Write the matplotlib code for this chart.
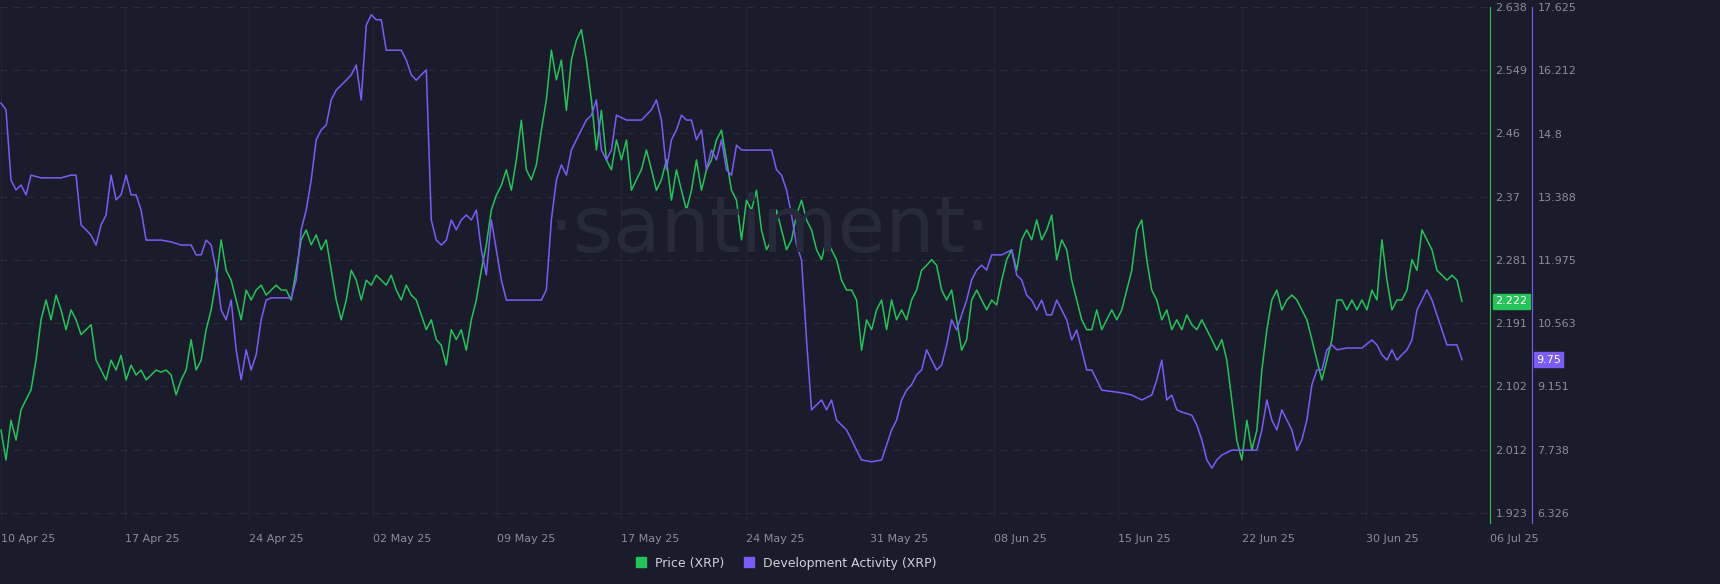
import numpy as np
import matplotlib
matplotlib.use("Agg")
import matplotlib.pyplot as plt
from matplotlib.lines import Line2D

date_labels = ["10 Apr 25", "17 Apr 25", "24 Apr 25", "02 May 25", "09 May 25", "17 May 25",
               "24 May 25", "31 May 25", "08 Jun 25", "15 Jun 25", "22 Jun 25", "30 Jun 25", "06 Jul 25"]
price_ticks = [1.923, 2.012, 2.102, 2.191, 2.281, 2.37, 2.46, 2.549, 2.638]
dev_ticks = [6.326, 7.738, 9.151, 10.563, 11.975, 13.388, 14.8, 16.212, 17.625]

price = [2.040, 1.998, 2.054, 2.026, 2.069, 2.083, 2.097, 2.139, 2.196, 2.224, 2.196, 2.231, 2.210, 2.182, 2.210,
         2.196, 2.175, 2.182, 2.189, 2.139, 2.125, 2.111, 2.139, 2.125, 2.146, 2.111, 2.132, 2.118, 2.125, 2.111,
         2.118, 2.125, 2.122, 2.125, 2.118, 2.090, 2.111, 2.125, 2.168, 2.125, 2.139, 2.182, 2.210, 2.252, 2.309,
         2.266, 2.252, 2.224, 2.196, 2.238, 2.224, 2.238, 2.245, 2.231, 2.238, 2.245, 2.238, 2.238, 2.224, 2.266,
         2.309, 2.323, 2.302, 2.316, 2.295, 2.309, 2.266, 2.224, 2.196, 2.224, 2.266, 2.252, 2.224, 2.252, 2.245,
         2.259, 2.252, 2.245, 2.259, 2.238, 2.224, 2.245, 2.231, 2.224, 2.203, 2.182, 2.196, 2.168, 2.160, 2.132,
         2.182, 2.168, 2.182, 2.153, 2.196, 2.224, 2.266, 2.302, 2.351, 2.372, 2.386, 2.408, 2.379, 2.422, 2.478,
         2.408, 2.394, 2.415, 2.464, 2.507, 2.577, 2.535, 2.563, 2.492, 2.563, 2.591, 2.606, 2.563, 2.507, 2.436,
         2.492, 2.422, 2.408, 2.450, 2.422, 2.450, 2.379, 2.394, 2.408, 2.436, 2.408, 2.379, 2.394, 2.422, 2.365,
         2.408, 2.379, 2.351, 2.379, 2.422, 2.379, 2.408, 2.422, 2.450, 2.464, 2.422, 2.379, 2.365, 2.309, 2.365,
         2.351, 2.379, 2.323, 2.295, 2.309, 2.351, 2.323, 2.295, 2.309, 2.344, 2.365, 2.337, 2.323, 2.295, 2.281,
         2.309, 2.295, 2.281, 2.252, 2.238, 2.238, 2.224, 2.153, 2.196, 2.182, 2.210, 2.224, 2.182, 2.224, 2.196,
         2.210, 2.196, 2.224, 2.238, 2.266, 2.273, 2.281, 2.273, 2.238, 2.224, 2.238, 2.196, 2.153, 2.168, 2.224,
         2.238, 2.224, 2.210, 2.224, 2.217, 2.252, 2.281, 2.295, 2.266, 2.309, 2.323, 2.309, 2.337, 2.309, 2.323,
         2.344, 2.281, 2.309, 2.295, 2.252, 2.224, 2.196, 2.182, 2.182, 2.210, 2.182, 2.196, 2.210, 2.196, 2.210,
         2.238, 2.266, 2.323, 2.337, 2.281, 2.238, 2.224, 2.196, 2.210, 2.182, 2.196, 2.182, 2.203, 2.189, 2.182,
         2.196, 2.182, 2.168, 2.153, 2.168, 2.139, 2.083, 2.026, 1.998, 2.054, 2.012, 2.040, 2.125, 2.182, 2.224,
         2.238, 2.210, 2.224, 2.231, 2.224, 2.210, 2.196, 2.168, 2.139, 2.111, 2.139, 2.168, 2.224, 2.224, 2.210,
         2.224, 2.210, 2.224, 2.210, 2.238, 2.224, 2.309, 2.252, 2.210, 2.224, 2.224, 2.238, 2.281, 2.266, 2.323,
         2.309, 2.295, 2.266, 2.259, 2.252, 2.259, 2.252, 2.222]

dev_step = [0, 1, 2, 3, 4, 5, 6, 8, 12, 14, 15, 16, 17, 18, 19, 20, 21, 22, 23, 24, 25, 26, 27, 28, 29, 32, 34, 36, 38,
            39, 40, 41, 42, 43, 44, 45, 46, 47, 48, 49, 50, 51, 52, 53, 54, 58, 59, 60, 61, 62, 63, 64, 65, 66, 67, 68,
            69, 70, 71, 72, 73, 74, 75, 76, 77, 78, 80, 81, 82, 83, 84, 85, 86, 87, 88, 89, 90, 91, 92, 93, 94, 95, 96,
            97, 98, 99, 100, 101, 104, 108, 109, 110, 111, 112, 113, 114, 115, 116, 117, 118, 119, 120, 121, 122, 123,
            125, 128, 130, 131, 132, 133, 134, 135, 136, 137, 138, 139, 140, 141, 142, 143, 144, 145, 146, 147, 148,
            152, 154, 155, 156, 157, 158, 159, 160, 161, 162, 163, 164, 165, 166, 167, 168, 169, 170, 171, 172, 174,
            176, 178, 179, 180, 181, 182, 183, 184, 185, 186, 187, 188, 189, 190, 191, 192, 193, 194, 195, 196, 197,
            198, 200, 202, 203, 204, 205, 206, 207, 208, 209, 210, 211, 212, 213, 214, 215, 216, 217, 218, 219, 220,
            224, 226, 228, 230, 231, 232, 233, 234, 235, 236, 238, 239, 240, 241, 242, 243, 244, 246, 251, 252, 253,
            254, 255, 256, 257, 258, 259, 260, 261, 262, 263, 264, 265, 266, 267, 269, 272, 274, 275, 276, 277, 278,
            279, 280, 281, 282, 283, 284, 285, 286, 288, 289, 291, 292]
dev = [15.48, 15.33, 13.76, 13.54, 13.65, 13.43, 13.87, 13.81, 13.81, 13.87, 13.87, 12.76, 12.65, 12.53, 12.31, 12.76,
       12.98, 13.87, 13.32, 13.43, 13.87, 13.43, 13.43, 13.09, 12.42, 12.42, 12.38, 12.31, 12.31, 12.09, 12.09, 12.42,
       12.31, 11.75, 10.86, 10.64, 11.08, 9.97, 9.30, 9.97, 9.52, 9.86, 10.64, 11.08, 11.13, 11.13, 11.53, 12.65, 13.09,
       13.76, 14.66, 14.88, 14.99, 15.55, 15.77, 15.88, 15.99, 16.11, 16.33, 15.55, 17.22, 17.45, 17.34, 17.34, 16.66,
       16.66, 16.66, 16.44, 16.11, 15.99, 16.11, 16.22, 12.87, 12.42, 12.31, 12.42, 12.87, 12.65, 12.87, 12.98, 12.87,
       13.09, 12.20, 11.64, 12.87, 12.20, 11.53, 11.08, 11.08, 11.08, 11.31, 12.87, 13.76, 14.10, 13.87, 14.43, 14.66,
       14.88, 15.10, 15.21, 15.55, 14.43, 14.21, 14.43, 15.21, 15.10, 15.10, 15.33, 15.55, 15.10, 13.99, 14.66, 14.88,
       15.21, 15.10, 15.10, 14.66, 14.88, 13.99, 14.43, 14.21, 14.66, 13.99, 13.87, 14.54, 14.43, 14.43, 14.43, 13.99,
       13.87, 13.54, 12.98, 12.31, 11.98, 10.19, 8.63, 8.74, 8.85, 8.63, 8.85, 8.40, 8.29, 8.18, 7.96, 7.73, 7.51, 7.47,
       7.51, 8.18, 8.40, 8.85, 9.07, 9.19, 9.41, 9.52, 9.97, 9.74, 9.52, 9.63, 10.08, 10.64, 10.41, 10.75, 11.08, 11.53,
       11.75, 11.86, 11.75, 12.09, 12.09, 12.20, 11.64, 11.53, 11.19, 11.08, 10.86, 11.08, 10.75, 10.75, 11.08, 10.86,
       10.64, 10.19, 10.41, 9.97, 9.52, 9.52, 9.30, 9.07, 9.01, 8.96, 8.85, 8.96, 9.30, 9.74, 8.85, 8.96, 8.63, 8.58,
       8.51, 8.29, 7.96, 7.51, 7.33, 7.51, 7.62, 7.73, 7.73, 8.18, 8.85, 8.40, 8.18, 8.63, 8.40, 8.18, 7.73, 7.96, 8.40,
       9.19, 9.52, 9.52, 9.97, 10.08, 9.97, 10.01, 10.01, 10.19, 10.08, 9.86, 9.74, 9.97, 9.74, 9.86, 9.97, 10.19, 10.86,
       11.08, 11.31, 11.08, 10.41, 10.08, 10.08, 9.75]

BG = "#1a1c2c"
GREEN = "#26c35a"
PURPLE = "#7b5cf5"
TXT = "#8a8d9c"

W, H = 1720, 584
fig = plt.figure(figsize=(W / 100, H / 100), dpi=100, facecolor=BG)
ax_l, ax_r, ax_t, ax_b = 0, 1490, 7, 523
ax = fig.add_axes([ax_l / W, 1 - ax_b / H, (ax_r - ax_l) / W, (ax_b - ax_t) / H], facecolor=BG)
ax2 = ax.twinx()

steps_per_tick = 124 / 5
x_price = np.arange(len(price))
ax.plot(x_price, price, color=GREEN, lw=1.1, zorder=3)
ax2.plot(dev_step, dev, color=PURPLE, lw=1.1, zorder=3)

ax.set_xlim(-0.2, 12 * steps_per_tick)
pspan = price_ticks[-1] - price_ticks[0]
dspan = dev_ticks[-1] - dev_ticks[0]
extra = 10 / 506
ax.set_ylim(price_ticks[0] - pspan * extra, price_ticks[-1])
ax2.set_ylim(dev_ticks[0] - dspan * extra, dev_ticks[-1])

xt = [k * steps_per_tick for k in range(len(date_labels))]
ax.set_xticks(xt)
ax.set_xticklabels(date_labels)
ax.tick_params(axis="x", length=0, pad=8, labelcolor=TXT, labelsize=8)
for lbl in ax.get_xticklabels():
    lbl.set_horizontalalignment("left")
ax.set_yticks(price_ticks)
ax.set_yticklabels([f"{v:g}" for v in price_ticks])
ax.yaxis.tick_right()
ax.tick_params(axis="y", length=0, pad=4, labelcolor=TXT, labelsize=8,
               left=False, labelleft=False, right=True, labelright=True)
ax2.set_yticks(dev_ticks)
ax2.set_yticklabels([f"{v:g}" for v in dev_ticks])
ax2.tick_params(axis="y", length=0, pad=4, labelcolor=TXT, labelsize=8)
ax2.spines["right"].set_position(("axes", 1532 / 1490))
ax2.spines["right"].set_color(PURPLE)

for a in (ax, ax2):
    for s in ["top", "left", "bottom"]:
        a.spines[s].set_visible(False)
ax.spines["right"].set_color(GREEN)
ax.spines["right"].set_visible(True)
ax2.spines["right"].set_visible(True)

ax.grid(axis="y", color="#2a2d3e", ls=(0, (6, 6)), lw=0.8)
ax.grid(axis="x", color="#22253a", lw=0.8)
ax.set_axisbelow(True)

fig.text(770 / W, 1 - 230 / H, "·santiment·", color="#262a3b", fontsize=56,
         ha="center", va="center", zorder=0)

ax.annotate(f"{price[-1]:.3f}", xy=(1, price[-1]), xycoords=("axes fraction", "data"),
            xytext=(4, 0), textcoords="offset points", color="white", fontsize=8, va="center",
            bbox=dict(boxstyle="square,pad=0.2", fc=GREEN, ec=GREEN), annotation_clip=False)
ax2.annotate(f"{dev[-1]:g}", xy=(1532 / 1490, dev[-1]), xycoords=("axes fraction", "data"),
             xytext=(3, 0), textcoords="offset points", color="white", fontsize=8, va="center",
             bbox=dict(boxstyle="square,pad=0.2", fc=PURPLE, ec=PURPLE), annotation_clip=False)

handles = [Line2D([], [], marker="s", ls="", color=GREEN, markersize=7),
           Line2D([], [], marker="s", ls="", color=PURPLE, markersize=7)]
fig.legend(handles, ["Price (XRP)", "Development Activity (XRP)"], loc="center",
           bbox_to_anchor=(0.455, 1 - 563 / H), ncol=2, frameon=False, labelcolor="#d0d2da",
           fontsize=9, handletextpad=0.1, columnspacing=1.0)

fig.savefig("out.png", dpi=100, facecolor=BG)
